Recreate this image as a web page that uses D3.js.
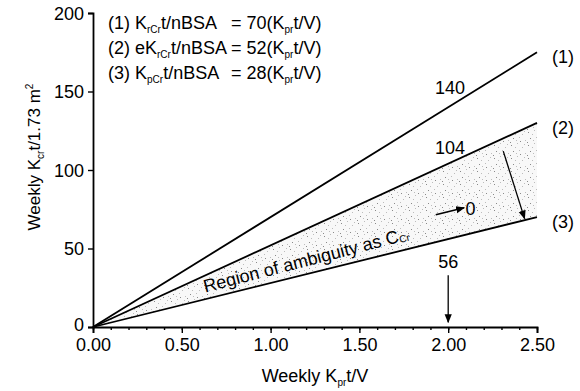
<!DOCTYPE html>
<html><head><meta charset="utf-8">
<script src="https://cdn.jsdelivr.net/npm/d3@7"></script>
<style>
html,body{margin:0;padding:0;background:#fff;}
svg{display:block;font-family:"Liberation Sans",Arial,Helvetica,sans-serif;}
</style></head>
<body>
<svg id="chart" width="580" height="391"></svg>
<script>
// ---- data ----
const xTicks = [0, 0.5, 1.0, 1.5, 2.0, 2.5];
const xMinorTicks = d3.range(0, 2.5001, 0.1);
const yTicks = [0, 50, 100, 150, 200];
const lineIds = ["(1)", "(2)", "(3)"];
const lineSlopes = [70, 52, 28];
const lineX = [0, 2.5];
const line1 = [0, 175];
const line2 = [0, 130];
const line3 = [0, 70];
const legendLhs = [["K", "rCr", "t/nBSA"], ["eK", "rCr", "t/nBSA"], ["K", "pCr", "t/nBSA"]];
const valuesAt2 = ["140", "104", "56"];

const svg = d3.select("#chart");
const x = d3.scaleLinear().domain([0, 2.5]).range([93, 537]);
const y = d3.scaleLinear().domain([0, 200]).range([327, 13]);
const FS = 18;

// stipple pattern
const defs = svg.append("defs");
const pat = defs.append("pattern").attr("id", "stip").attr("patternUnits", "userSpaceOnUse")
  .attr("width", 17).attr("height", 13);
pat.append("rect").attr("width", 17).attr("height", 13).attr("fill", "#f8f8f8");
[[1,2],[7,0],[12,4],[3,8],[15,10],[9,7],[0,12],[5,4],[14,1],[10,11],[6,10]].forEach(([a,b],i) => {
  pat.append("rect").attr("x", a).attr("y", b).attr("width", 1).attr("height", 1)
    .attr("fill", i % 3 === 0 ? "#8a8a8a" : "#bdbdbd");
});
defs.append("marker").attr("id", "arr").attr("viewBox", "0 0 10 10").attr("refX", 9).attr("refY", 5)
  .attr("markerWidth", 9).attr("markerHeight", 9).attr("markerUnits", "userSpaceOnUse").attr("orient", "auto")
  .append("path").attr("d", "M0,1 L10,5 L0,9 Z").attr("fill", "#000");

// shaded region between (2) and (3)
const region = [[lineX[0], line2[0]], [lineX[1], line2[1]], [lineX[1], line3[1]], [lineX[0], line3[0]]];
svg.append("path")
  .attr("d", d3.line().x(d => x(d[0])).y(d => y(d[1]))(region) + "Z")
  .attr("fill", "url(#stip)");

// axes
svg.append("g").attr("transform", `translate(0,${y(0)})`)
  .call(d3.axisBottom(x).tickValues(xTicks).tickFormat(d3.format(".2f")).tickSizeOuter(0).tickSize(6).tickPadding(5));
svg.append("g").attr("transform", `translate(0,${y(0)})`)
  .call(d3.axisBottom(x).tickValues(xMinorTicks).tickFormat("").tickSizeOuter(0).tickSize(3))
  .select(".domain").remove();
const gy = svg.append("g").attr("transform", `translate(${x(0)},0)`)
  .call(d3.axisLeft(y).tickValues(yTicks).tickSizeOuter(0).tickSize(5).tickPadding(4));
svg.selectAll(".domain").attr("stroke", "#000").attr("stroke-width", 1.8);
svg.selectAll(".tick line").attr("stroke", "#000").attr("stroke-width", 1.4);
svg.selectAll(".tick text").attr("font-size", FS).attr("fill", "#000")
  .attr("font-family", "'Liberation Sans',Arial,sans-serif");
gy.selectAll(".tick text").attr("dy", d => d === 0 ? "0.2em" : "0.36em");

// lines
const series = [line1, line2, line3];
series.forEach((vals, i) => {
  const pts = lineX.map((xv, j) => [xv, vals[j]]);
  svg.append("path").attr("d", d3.line().x(d => x(d[0])).y(d => y(d[1]))(pts))
    .attr("stroke", "#000").attr("stroke-width", 1.8).attr("fill", "none");
  svg.append("text").attr("x", x(lineX[1]) + 15).attr("y", y(vals[1]) + 11)
    .attr("font-size", FS).text(lineIds[i]);
});

// legend
legendLhs.forEach((parts, i) => {
  const by = 28.5 + i * 25;
  const t = svg.append("text").attr("x", 108).attr("y", by).attr("font-size", FS);
  t.append("tspan").text(lineIds[i] + " " + parts[0]);
  t.append("tspan").attr("font-size", 10).attr("dy", 4).text(parts[1]);
  t.append("tspan").attr("dy", -4).text(parts[2]);
  const r = svg.append("text").attr("x", 231).attr("y", by).attr("font-size", FS);
  r.append("tspan").text("= " + lineSlopes[i] + "(K");
  r.append("tspan").attr("font-size", 10).attr("dy", 4).text("pr");
  r.append("tspan").attr("dy", -4).text("t/V)");
});

// value annotations at x = 2.0
svg.append("text").attr("x", x(2.01)).attr("y", y(148.5)).attr("font-size", FS).attr("text-anchor", "middle").text(valuesAt2[0]);
svg.append("text").attr("x", x(2.01)).attr("y", y(110.5)).attr("font-size", FS).attr("text-anchor", "middle").text(valuesAt2[1]);
svg.append("text").attr("x", x(2.0)).attr("y", y(37.3)).attr("font-size", FS).attr("text-anchor", "middle").text(valuesAt2[2]);
svg.append("line").attr("x1", x(2.0)).attr("x2", x(2.0)).attr("y1", y(33)).attr("y2", y(3))
  .attr("stroke", "#000").attr("stroke-width", 1.3).attr("marker-end", "url(#arr)");

// long arrow from (2) to (3)
svg.append("line").attr("x1", x(2.31)).attr("y1", y(112)).attr("x2", x(2.43)).attr("y2", y(69))
  .attr("stroke", "#000").attr("stroke-width", 1.3).attr("marker-end", "url(#arr)");

// region text
const rx = x(0.632), ry = y(22);
const rt = svg.append("text").attr("transform", `translate(${rx},${ry}) rotate(-14.5)`).attr("font-size", FS);
rt.append("tspan").text("Region of ambiguity as C");
rt.append("tspan").attr("font-size", 10).attr("dy", 1).text("Cr");
svg.append("line").attr("x1", x(1.93)).attr("y1", y(71.5)).attr("x2", x(2.09)).attr("y2", y(76))
  .attr("stroke", "#000").attr("stroke-width", 1.5).attr("marker-end", "url(#arr)");
svg.append("text").attr("x", x(2.125)).attr("y", y(75.5)).attr("dy", "0.36em").attr("font-size", FS)
  .attr("text-anchor", "middle").text("0");

// axis titles
const xt = svg.append("text").attr("x", (x(0) + x(2.5)) / 2).attr("y", 382).attr("font-size", FS).attr("text-anchor", "middle");
xt.append("tspan").text("Weekly K");
xt.append("tspan").attr("font-size", 10).attr("dy", 4).text("pr");
xt.append("tspan").attr("dy", -4).text("t/V");

const yt = svg.append("text").attr("transform", `translate(40,${157}) rotate(-90)`).attr("font-size", 17).attr("text-anchor", "middle");
yt.append("tspan").text("Weekly K");
yt.append("tspan").attr("font-size", 10).attr("dy", 4).text("cr");
yt.append("tspan").attr("dy", -4).text("t/1.73 m");
yt.append("tspan").attr("font-size", 10).attr("dy", -7).text("2");
</script>
</body></html>
